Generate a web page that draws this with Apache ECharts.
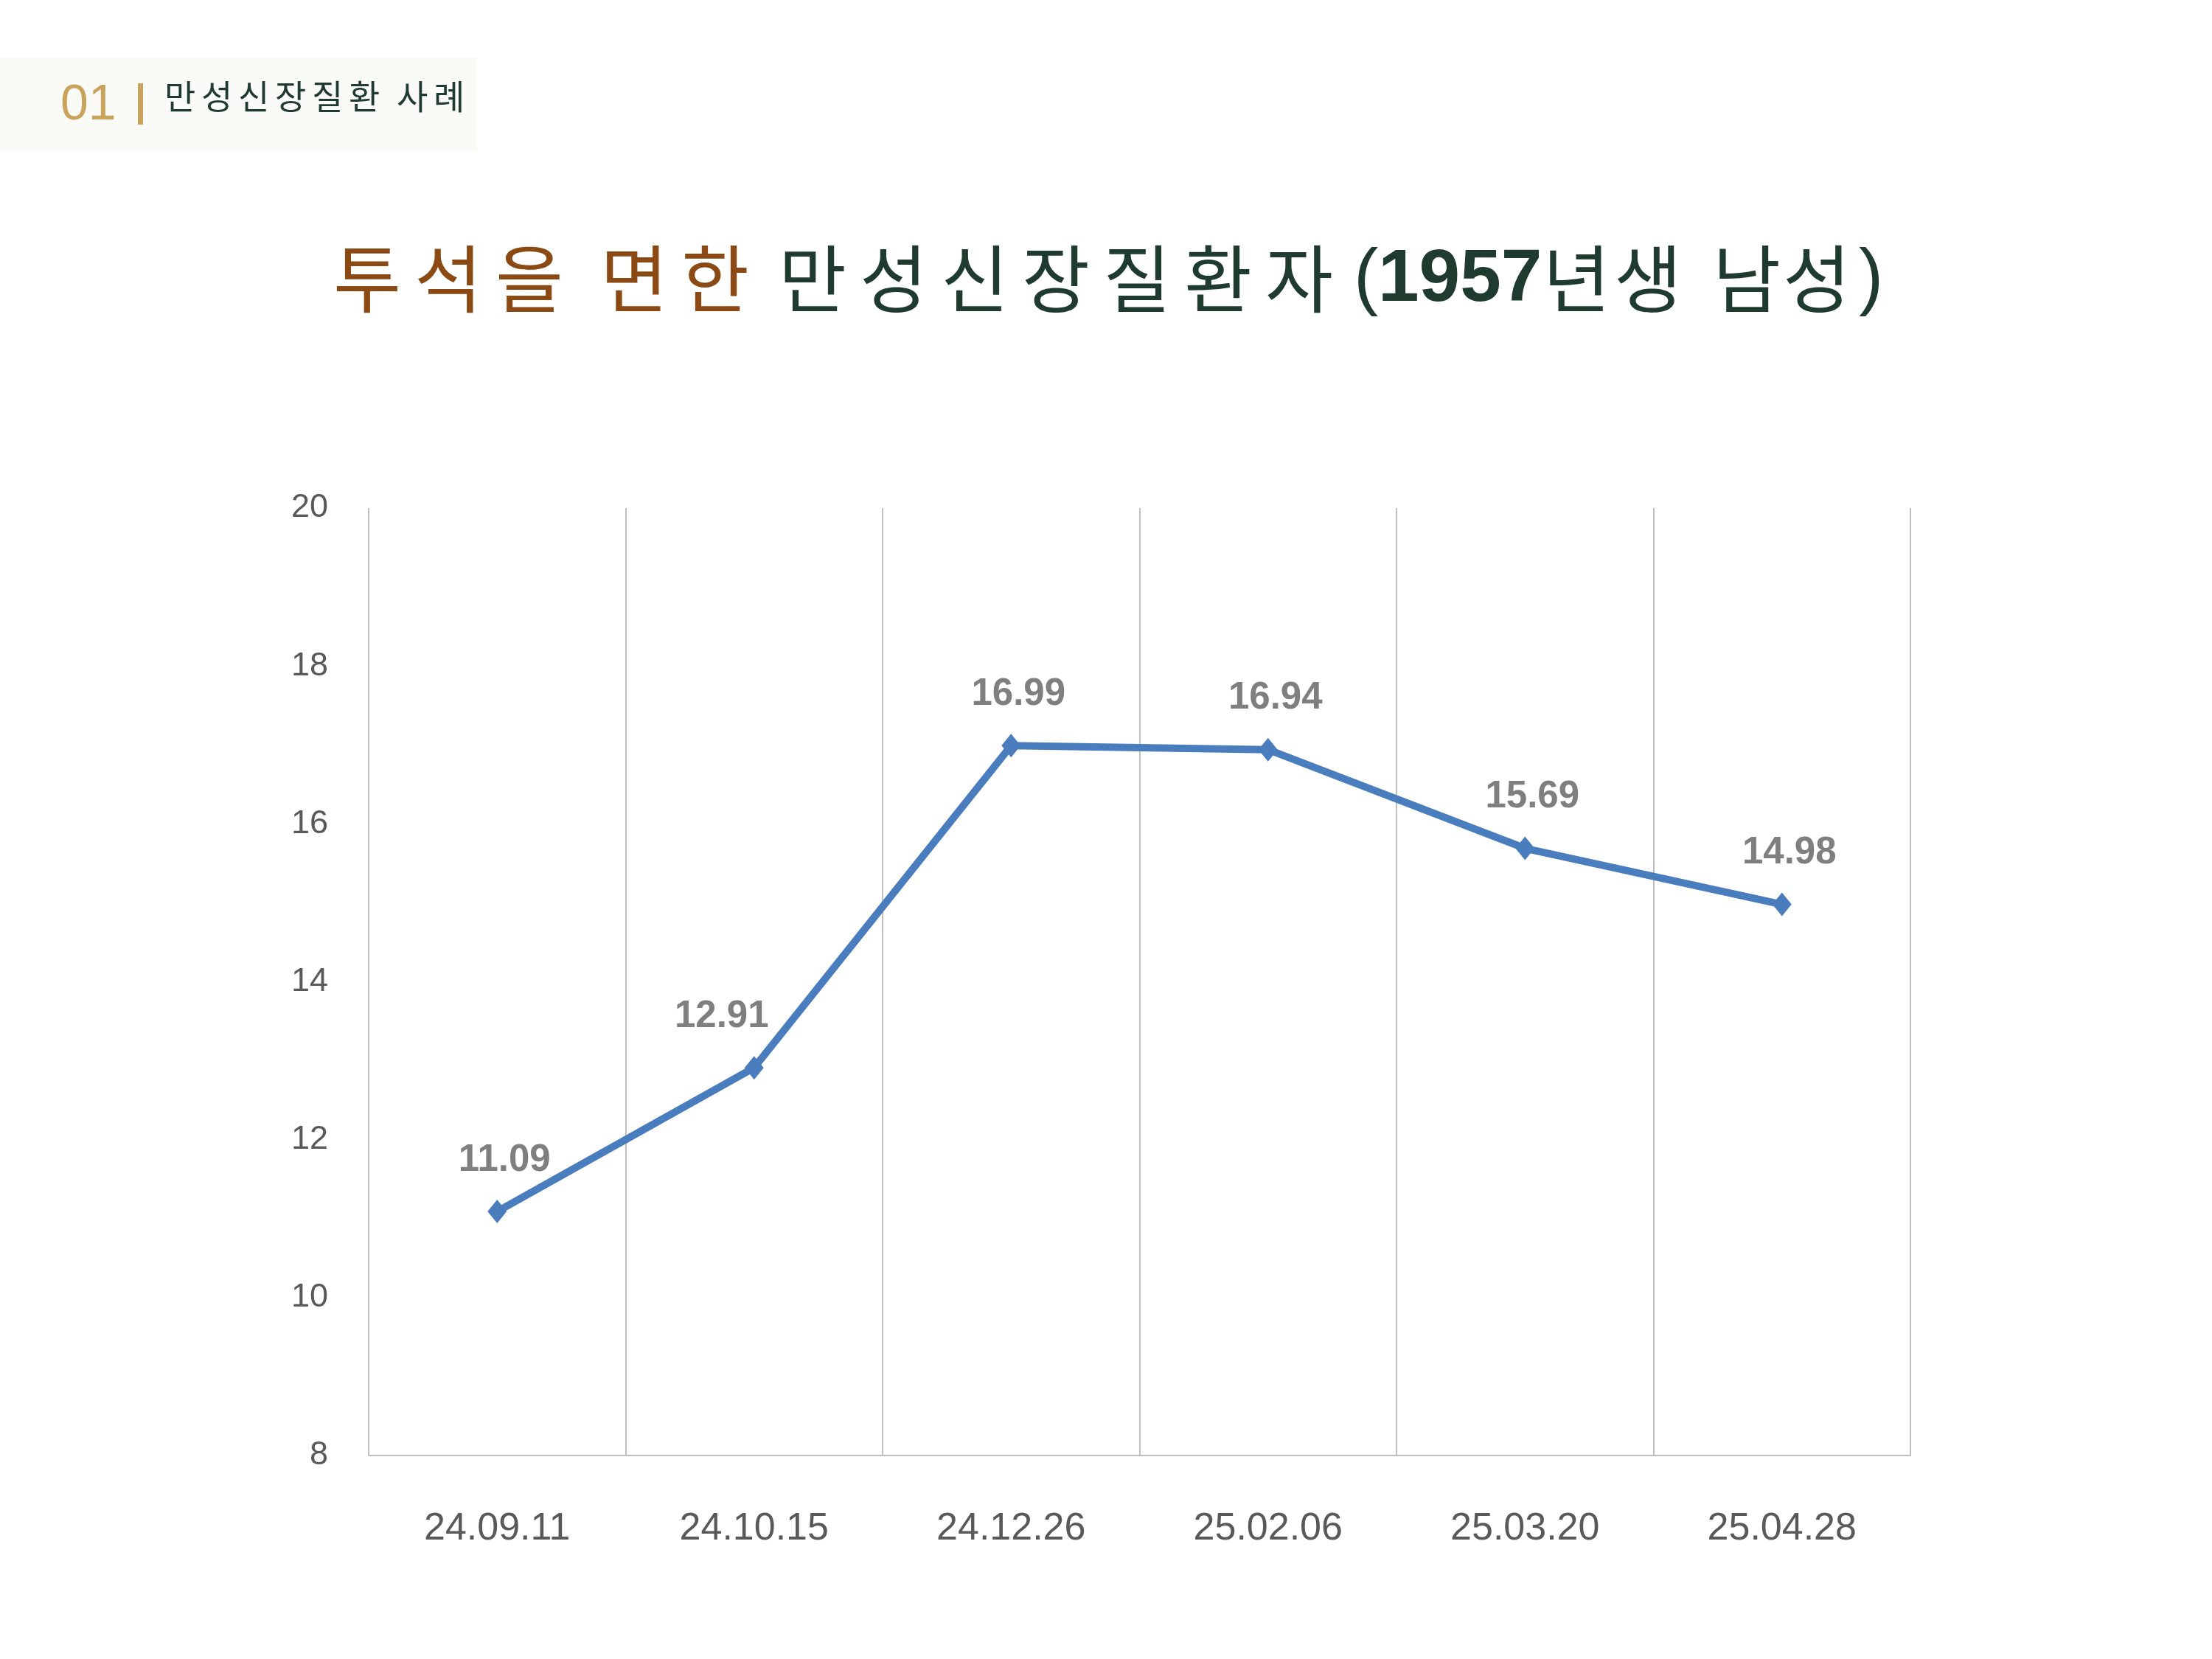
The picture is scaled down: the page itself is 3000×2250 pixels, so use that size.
<!DOCTYPE html>
<html>
<head>
<meta charset="utf-8">
<script src="https://cdn.jsdelivr.net/npm/echarts@6/dist/echarts.min.js"></script>
<style>
html,body{margin:0;padding:0;background:#fff;}
#c{width:3000px;height:2250px;}
</style>
</head>
<body>
<div id="c"></div>
<script>
const categories = ['24.09.11', '24.10.15', '24.12.26', '25.02.06', '25.03.20', '25.04.28'];
const values = [11.09, 12.91, 16.99, 16.94, 15.69, 14.98];
const yTicks = { min: 8, max: 20, interval: 2 };
const headerNum = '01';
const headerRuns = ['만성신장질환', '사례'];
const titleRuns = [
  { text: '투석을', kind: 'cjk', color: '#8b4a14' },
  { text: '면한', kind: 'cjk', color: '#8b4a14' },
  { text: '만성신장질환자', kind: 'cjk', color: '#1f3a2f' },
  { text: '(', kind: 'paren', color: '#1f3a2f' },
  { text: '1957', kind: 'num', color: '#1f3a2f' },
  { text: '년생', kind: 'cjk', color: '#1f3a2f' },
  { text: '남성', kind: 'cjk', color: '#1f3a2f' },
  { text: ')', kind: 'paren', color: '#1f3a2f' }
];

const LATIN = "'Liberation Sans', Arial, sans-serif";
const CJK = "'Noto Sans CJK KR', 'Noto Sans CJK SC', sans-serif";

// layout for the title runs (x start, per-char spacing)
const runLayout = [
  { x: 452, sp: 10 }, { x: 814, sp: 10 }, { x: 1056, sp: 10 },
  { x: 1836, sp: 0 }, { x: 1869, sp: 0 },
  { x: 2092, sp: -3 }, { x: 2323, sp: -5 }, { x: 2521, sp: 0 }
];
const TITLE_FS = 100;
const TITLE_Y = 378;
const headerLayout = [{ x: 223, pitch: 50 }, { x: 538, pitch: 50 }];

const graphics = [];
graphics.push({ type: 'rect', shape: { x: 0, y: 78, width: 647, height: 127 }, style: { fill: '#fafaf6' }, silent: true });
graphics.push({ type: 'text', x: 82, y: 143, style: { text: headerNum, font: "68px " + LATIN, fill: '#c9a35b', verticalAlign: 'middle', align: 'left' } });
graphics.push({ type: 'rect', shape: { x: 187, y: 113, width: 7, height: 56 }, style: { fill: '#c9a35b' } });
headerRuns.forEach((run, i) => {
  Array.from(run).forEach((ch, j) => {
    graphics.push({ type: 'text', x: headerLayout[i].x + j * headerLayout[i].pitch, y: 131,
      style: { text: ch, font: "46px " + CJK, fill: '#1f3a2f', verticalAlign: 'middle', align: 'left' } });
  });
});

titleRuns.forEach((run, i) => {
  const L = runLayout[i];
  if (run.kind === 'cjk') {
    Array.from(run.text).forEach((ch, j) => {
      graphics.push({ type: 'text', x: L.x + j * (TITLE_FS + L.sp), y: TITLE_Y,
        style: { text: ch, font: TITLE_FS + 'px ' + CJK, fill: run.color, verticalAlign: 'middle', align: 'left' } });
    });
  } else {
    const weight = run.kind === 'num' ? 'bold ' : '';
    graphics.push({ type: 'text', x: L.x, y: TITLE_Y + 2,
      style: { text: run.text, font: weight + TITLE_FS + "px " + LATIN, fill: run.color, verticalAlign: 'middle', align: 'left' } });
  }
});

const LINE_COLOR = '#4a7dbd';
const seriesData = values.map((v, i) => {
  const item = { value: v };
  if (i === 1) item.label = { offset: [-44, 0] };
  return item;
});

const chart = echarts.init(document.getElementById('c'), null, { renderer: 'canvas', devicePixelRatio: 1 });
chart.setOption({
  animation: false,
  backgroundColor: '#ffffff',
  grid: { left: 500, right: 409, top: 689, bottom: 276, containLabel: false },
  xAxis: {
    type: 'category',
    data: categories,
    boundaryGap: true,
    axisLine: { show: true, lineStyle: { color: '#bfbfbf', width: 2 } },
    axisTick: { show: false },
    axisLabel: { fontSize: 52, color: '#595959', fontFamily: LATIN, margin: 74 },
    splitLine: { show: true, lineStyle: { color: '#bfbfbf', width: 2 } }
  },
  yAxis: {
    type: 'value',
    min: yTicks.min, max: yTicks.max, interval: yTicks.interval,
    axisLine: { show: false },
    axisTick: { show: false },
    splitLine: { show: false },
    axisLabel: { fontSize: 45, color: '#595959', fontFamily: LATIN, margin: 55 }
  },
  series: [{
    type: 'line',
    data: seriesData,
    symbol: 'diamond',
    symbolSize: [26, 32],
    lineStyle: { color: LINE_COLOR, width: 10 },
    itemStyle: { color: LINE_COLOR },
    label: {
      show: true, position: 'top', distance: 28, offset: [10, 0],
      fontSize: 51, fontWeight: 'bold', color: '#7f7f7f', fontFamily: LATIN,
      formatter: p => p.value.toFixed(2)
    }
  }],
  graphic: graphics
});
</script>
</body>
</html>
